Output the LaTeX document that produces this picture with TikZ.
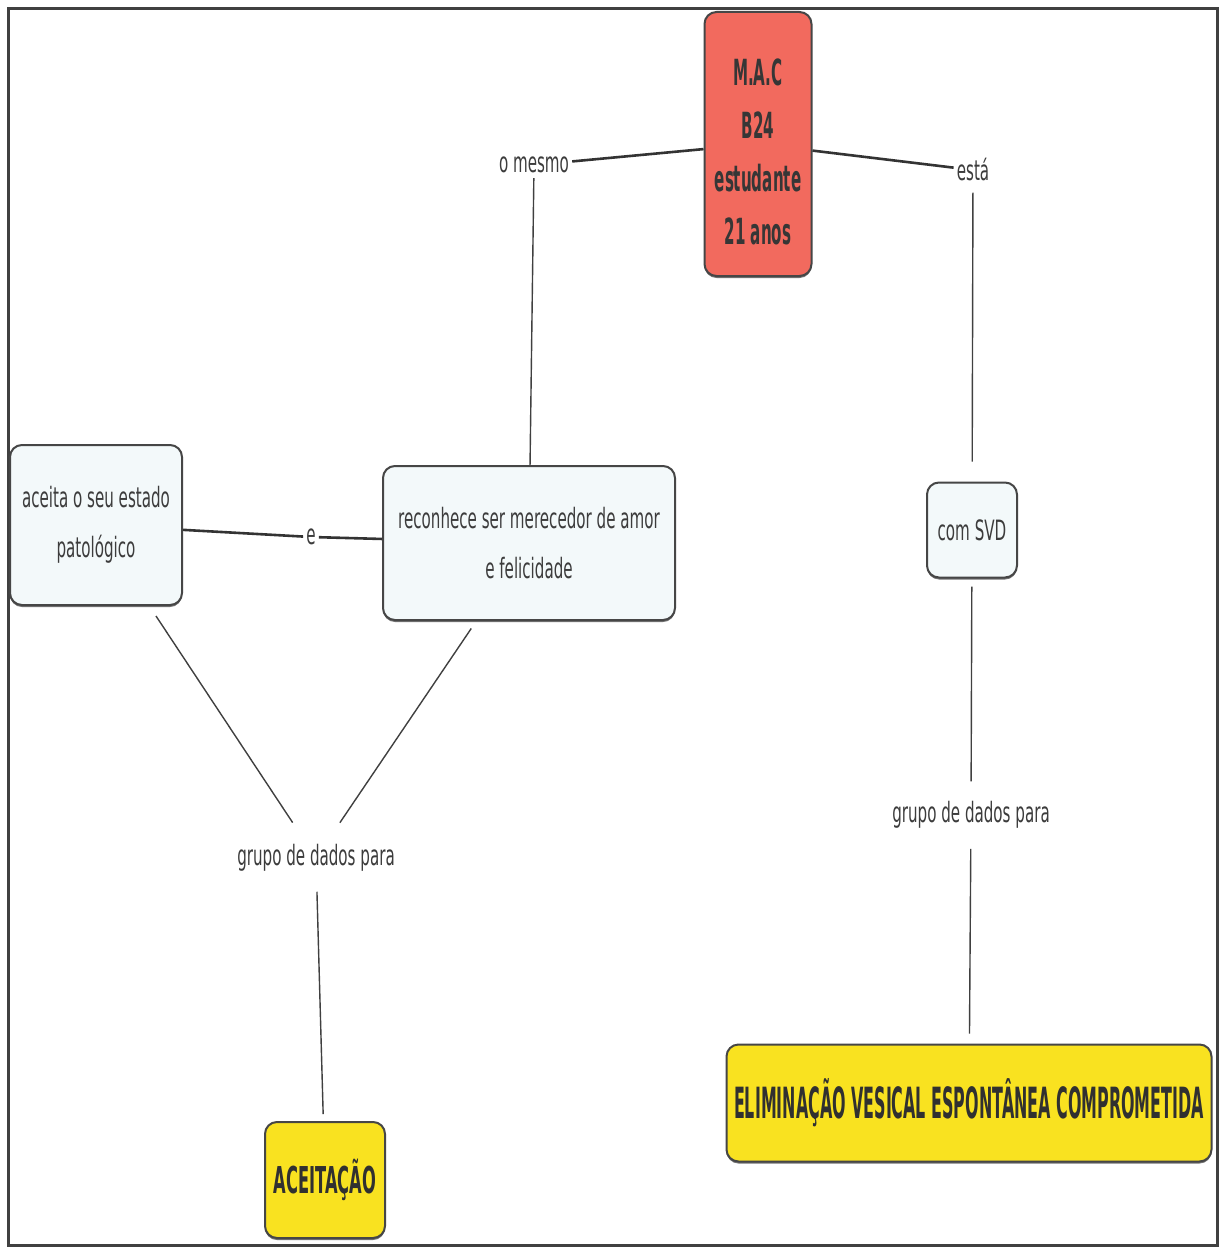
\documentclass[tikz,border=0pt]{standalone}
\usepackage{fontspec}
\usetikzlibrary{shadows}
\setmainfont{DejaVu Sans}
\newfontfamily\condf[FakeStretch=0.54]{DejaVu Sans}
\newfontfamily\condbm[FakeStretch=0.42]{DejaVu Sans Bold}
\newfontfamily\condba[FakeStretch=0.44]{DejaVu Sans Bold}
\newfontfamily\condbe[FakeStretch=0.37]{DejaVu Sans Bold}
\definecolor{txt}{RGB}{60,60,60}
\definecolor{boxline}{RGB}{70,70,70}
\definecolor{redfill}{RGB}{242,106,94}
\definecolor{lightfill}{RGB}{243,249,250}
\definecolor{yellowfill}{RGB}{249,226,32}
\tikzset{
  x=1pt, y=-1pt,
  concept/.style={draw=boxline, line width=2pt, rounded corners=12pt, align=center,
    text=txt, font=\condf\fontsize{28}{50}\selectfont, fill=lightfill, inner sep=0pt,
    general shadow={shadow yshift=-2pt, fill=black!55}},
  mainbox/.style={concept, fill=redfill, font=\condbm\fontsize{36}{53}\selectfont, text=txt!90!black},
  aceitabox/.style={concept, fill=yellowfill, font=\condba\fontsize{37}{40}\selectfont, text=txt!80!black},
  elimbox/.style={concept, fill=yellowfill, font=\condbe\fontsize{43}{46}\selectfont, text=txt!80!black},
  linklabel/.style={text=txt, font=\condf\fontsize{28}{32}\selectfont, inner xsep=3pt, inner ysep=5pt},
  thick link/.style={draw=black!80, line width=2.6pt},
  thin link/.style={draw=black!75, line width=1.4pt}
}
\begin{document}
\begin{tikzpicture}
\useasboundingbox (0,0) rectangle (1221,1249);
\fill[white] (0,0) rectangle (1221,1249);
\draw[black!75, line width=3pt] (8,9) rectangle (1217,1245);

\node[mainbox, minimum width=107pt, minimum height=264pt] (mac) at (758,144) {\mbox{}\\[-10pt]M.A.C\\B24\\estudante\\21 anos};
\node[linklabel] (omesmo) at (534,165) {o mesmo};
\node[linklabel] (esta) at (973,170) {está};
\node[concept, minimum width=172pt, minimum height=160pt] (aceita) at (96,525) {aceita o seu estado\\patológico};
\node[linklabel] (e) at (311,537) {e};
\node[concept, minimum width=292pt, minimum height=154pt] (reconhece) at (529,543) {reconhece ser merecedor de amor\\e felicidade};
\node[concept, minimum width=90pt, minimum height=95pt] (comsvd) at (972,530) {com SVD};
\node[linklabel] (g1) at (316,858) {grupo de dados para};
\node[linklabel] (g2) at (971,815) {grupo de dados para};
\node[aceitabox, minimum width=120pt, minimum height=116pt] (aceitacao) at (325,1180) {ACEITAÇÃO};
\node[elimbox, minimum width=485pt, minimum height=117pt] (elim) at (969,1103) {ELIMINAÇÃO VESICAL ESPONTÂNEA COMPROMETIDA};

\draw[thick link] (mac) -- (omesmo);
\draw[thick link] (mac) -- (esta);
\draw[thin link] (omesmo) -- (reconhece);
\draw[thin link, shorten <=6pt, shorten >=20pt] (esta) -- (comsvd);
\draw[thick link] (aceita) -- (e);
\draw[thick link] (e) -- (reconhece);
\draw[thin link, shorten <=12pt, shorten >=20pt] (aceita) -- (g1);
\draw[thin link, shorten <=9pt, shorten >=20pt] (reconhece) -- (g1);
\draw[thin link, shorten <=15pt, shorten >=7pt] (g1) -- (aceitacao);
\draw[thin link, shorten <=8pt, shorten >=15pt] (comsvd) -- (g2);
\draw[thin link, shorten <=15pt, shorten >=10pt] (g2) -- (elim);
\end{tikzpicture}
\end{document}
